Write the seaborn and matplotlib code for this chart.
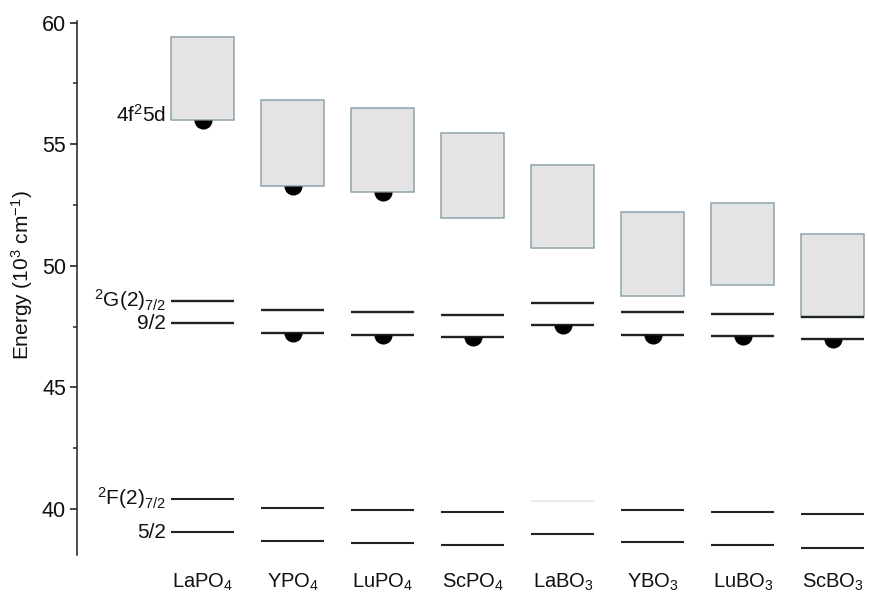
import numpy as np
import pandas as pd
import matplotlib
matplotlib.use("Agg")
import matplotlib.pyplot as plt
import seaborn as sns

# ---- data ----
compounds = ["LaPO$_4$", "YPO$_4$", "LuPO$_4$", "ScPO$_4$",
             "LaBO$_3$", "YBO$_3$", "LuBO$_3$", "ScBO$_3$"]
d_top = [59.4, 56.8, 56.5, 55.45, 54.15, 52.2, 52.6, 51.3]
d_bottom = [56.0, 53.3, 53.05, 51.95, 50.75, 48.75, 49.2, 47.9]
g72 = [48.54, 48.17, 48.08, 47.98, 48.45, 48.09, 48.0, 47.9]
g92 = [47.63, 47.24, 47.15, 47.07, 47.56, 47.17, 47.1, 46.98]
f72 = [40.40, 40.05, 39.95, 39.86, 40.34, 39.93, 39.85, 39.78]
f52 = [39.04, 38.69, 38.59, 38.49, 38.97, 38.62, 38.50, 38.40]
f72_faint = [False, False, False, False, True, False, False, False]
dot_cat = [0, 1, 2, 1, 2, 3, 4, 5, 6, 7]
dot_val = [56.0, 53.3, 53.05, 47.24, 47.15, 47.07, 47.56, 47.17, 47.1, 46.98]
level_labels = ["4f$^2$5d", "$^2$G(2)$_{7/2}$", "9/2", "$^2$F(2)$_{7/2}$", "5/2"]
level_label_y = [56.2, 48.6, 47.63, 40.46, 39.04]
yticks_major = [40, 45, 50, 55, 60]

sns.set_theme(style="white")
plt.rcParams["font.family"] = ["Liberation Sans", "DejaVu Sans"]
plt.rcParams["mathtext.fontset"] = "custom"
plt.rcParams["mathtext.rm"] = "Liberation Sans"
plt.rcParams["mathtext.it"] = "Liberation Sans:italic"
plt.rcParams["mathtext.bf"] = "Liberation Sans:bold"

fig = plt.figure(figsize=(8.69, 5.97), dpi=100)
ax = fig.add_axes([0.0886, 0.0704, 0.9114, 0.8936])

df = pd.DataFrame({"compound": compounds,
                   "height": np.array(d_top) - np.array(d_bottom),
                   "bottom": d_bottom})

sns.barplot(data=df, x="compound", y="height", bottom=df["bottom"].to_numpy(),
            color="#e4e4e4", saturation=1, width=0.7,
            edgecolor="#8ea3ae", linewidth=1.1, ax=ax)

xs = np.arange(len(compounds))
hw = 0.35
line_col = "#1e2326"
ax.hlines(g72, xs - hw, xs + hw, color=line_col, lw=1.7, zorder=3)
ax.hlines(g92, xs - hw, xs + hw, color=line_col, lw=1.7, zorder=3)
f72_cols = ["#e6ecef" if f else line_col for f in f72_faint]
ax.hlines(f72, xs - hw, xs + hw, colors=f72_cols, lw=1.5, zorder=3)
ax.hlines(f52, xs - hw, xs + hw, color=line_col, lw=1.5, zorder=3)

ax.plot(dot_cat, dot_val, ls="none", marker="o", fillstyle="bottom",
        markersize=13, markeredgewidth=0, color="black", zorder=4)

for lab, yv in zip(level_labels, level_label_y):
    ax.text(-0.41, yv, lab, ha="right", va="center", fontsize=15, color="#111")

ax.set_xlim(-1.4, 7.4)
ax.set_ylim(38.1, 60.05)
ax.set_yticks(yticks_major)
ax.set_yticks([42.5, 47.5, 52.5, 57.5], minor=True)
ax.set_xticks(xs)
ax.set_xticklabels(compounds, fontsize=14.5, color="#111")
ax.tick_params(axis="x", length=0, pad=12)
ax.tick_params(axis="y", which="major", direction="out", length=5, width=1.1,
               left=True, labelsize=15.5, colors="#111", pad=3)
ax.tick_params(axis="y", which="minor", direction="out", length=3, width=1.1, left=True)
ax.set_xlabel("")
ax.set_ylabel("Energy (10$^3$ cm$^{-1}$)", fontsize=15, color="#111")
ax.yaxis.label.set_va("center")
ax.yaxis.set_label_coords(-0.0694, 0.525)

for s in ["top", "right", "bottom"]:
    ax.spines[s].set_visible(False)
ax.spines["left"].set_color("#2a1a14")
ax.spines["left"].set_linewidth(1.1)
ax.patch.set_alpha(0)

fig.savefig("out.png", dpi=100)
